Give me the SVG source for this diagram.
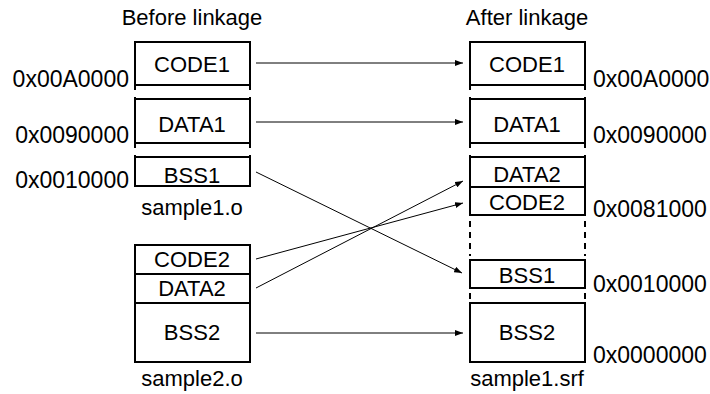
<svg xmlns="http://www.w3.org/2000/svg" width="710" height="394" viewBox="0 0 710 394">
<style>
  text { font-family: "Liberation Sans", Arial, sans-serif; font-size: 22px; fill: #000; }
  .c { text-anchor: middle; }
  .r { text-anchor: end; }
  .a { font-size: 23px; }
  .box { fill: none; stroke: #000; stroke-width: 2; }
  .dash { fill: none; stroke: #000; stroke-width: 2; stroke-dasharray: 6 5; }
  .conn { fill: none; stroke: #000; stroke-width: 1; marker-end: url(#ah); }
</style>
<defs>
  <marker id="ah" markerUnits="userSpaceOnUse" markerWidth="8" markerHeight="6" refX="8" refY="3" orient="auto">
    <path d="M0,0 L8,3 L0,6 z" fill="#000"/>
  </marker>
</defs>
<rect width="710" height="394" fill="#fff"/>

<text class="c" x="192" y="25">Before linkage</text>
<text class="c" x="527" y="25">After linkage</text>

<g id="left-code1">
  <path class="box" d="M135,90 V42 H250 V90 M135,85 H250"/>
  <text class="c" x="192" y="72">CODE1</text>
  <text class="r a" x="129" y="87">0x00A0000</text>
</g>
<g id="left-data1">
  <path class="box" d="M135,97 V148 M250,97 V148 M135,99 H250 M135,143 H250"/>
  <text class="c" x="192" y="132">DATA1</text>
  <text class="r a" x="129" y="143">0x0090000</text>
</g>
<g id="left-bss1">
  <path class="box" d="M135,155 V186 H250 V155 M135,157 H250"/>
  <text class="c" x="192" y="183">BSS1</text>
  <text class="r a" x="129" y="188">0x0010000</text>
</g>
<text class="c" x="192" y="215">sample1.o</text>

<g id="left-code2">
  <rect class="box" x="135" y="245" width="115" height="29"/>
  <text class="c" x="192" y="267">CODE2</text>
</g>
<g id="left-data2">
  <rect class="box" x="135" y="274" width="115" height="29"/>
  <text class="c" x="192" y="296">DATA2</text>
</g>
<g id="left-bss2">
  <rect class="box" x="135" y="303" width="115" height="59"/>
  <text class="c" x="192" y="340">BSS2</text>
</g>
<text class="c" x="192" y="386">sample2.o</text>

<g id="right-code1">
  <path class="box" d="M470,90 V42 H585 V90 M470,85 H585"/>
  <text class="c" x="527" y="72">CODE1</text>
  <text class="a" x="593" y="87">0x00A0000</text>
</g>
<g id="right-data1">
  <path class="box" d="M470,97 V148 M585,97 V148 M470,99 H585 M470,143 H585"/>
  <text class="c" x="527" y="132">DATA1</text>
  <text class="a" x="593" y="143">0x0090000</text>
</g>
<g id="right-data2">
  <path class="box" d="M470,155 V187 M585,155 V187 M470,157 H585 M470,187 H585"/>
  <text class="c" x="527" y="182">DATA2</text>
</g>
<g id="right-code2">
  <path class="box" d="M470,187 V215 H585 V187"/>
  <text class="c" x="527" y="210">CODE2</text>
  <text class="a" x="593" y="217">0x0081000</text>
</g>
<path class="dash" d="M470,221 V256 M585,221 V256"/>
<g id="right-bss1">
  <rect class="box" x="470" y="260" width="115" height="28"/>
  <text class="c" x="527" y="283">BSS1</text>
  <text class="a" x="593" y="292">0x0010000</text>
</g>
<path class="dash" d="M470,293 V300 M585,293 V300"/>
<g id="right-bss2">
  <rect class="box" x="470" y="303" width="115" height="59"/>
  <text class="c" x="527" y="340">BSS2</text>
  <text class="a" x="593" y="363">0x0000000</text>
</g>
<text class="c" x="527" y="386">sample1.srf</text>

<g id="connectors">
  <line class="conn" x1="256" y1="63" x2="463" y2="63"/>
  <line class="conn" x1="256" y1="122" x2="463" y2="122"/>
  <line class="conn" x1="256" y1="172" x2="462" y2="273"/>
  <line class="conn" x1="256" y1="259" x2="463" y2="203"/>
  <line class="conn" x1="256" y1="288" x2="463" y2="181"/>
  <line class="conn" x1="256" y1="333" x2="463" y2="333"/>
</g>
</svg>
